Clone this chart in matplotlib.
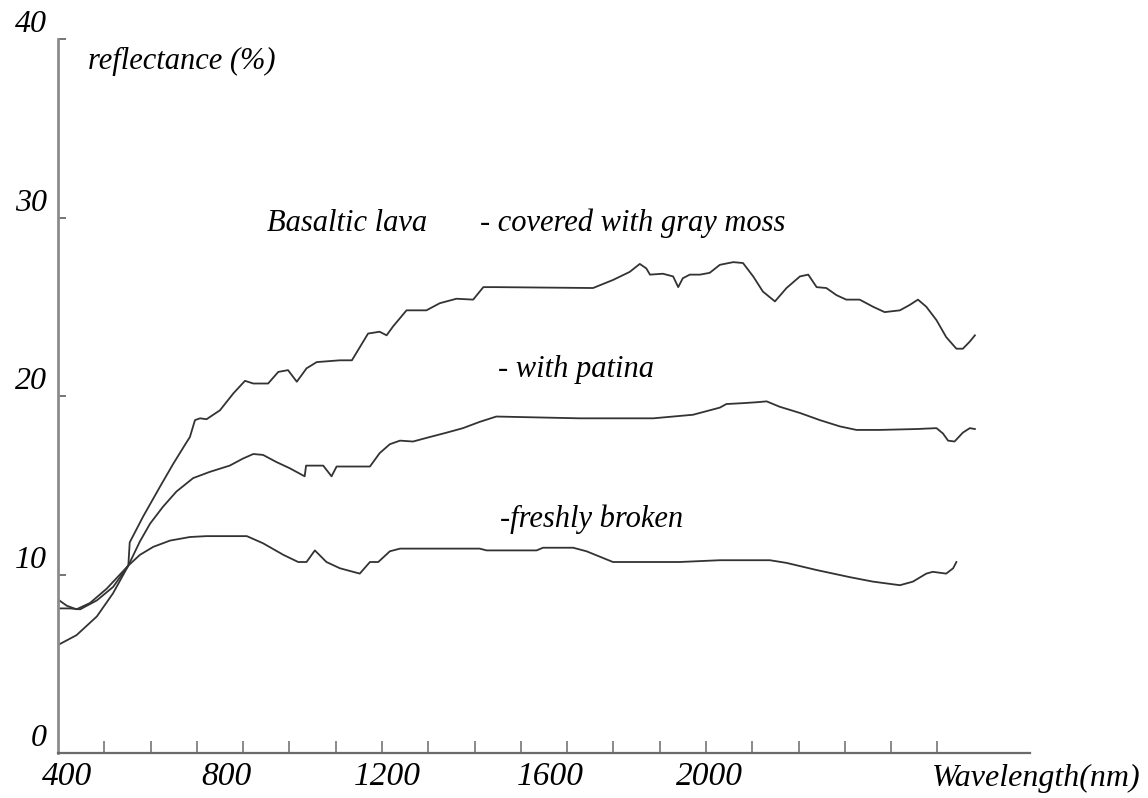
import matplotlib
matplotlib.use("Agg")
import matplotlib.pyplot as plt
from matplotlib.ticker import FixedLocator, NullFormatter

# Spectra (wavelength nm, reflectance %)
wl_moss = [400, 440, 484, 519, 552, 555, 584, 620, 649, 674, 685, 696, 707, 721, 750,
           779, 804, 822, 854, 876, 897, 916, 937, 959, 1009, 1035, 1070, 1095, 1110,
           1124, 1153, 1167, 1196, 1225, 1261, 1297, 1319, 1347, 1556, 1599, 1635, 1657,
           1671, 1679, 1707, 1729, 1740, 1750, 1765, 1787, 1808, 1830, 1859, 1880, 1902,
           1923, 1949, 1974, 2003, 2021, 2039, 2060, 2082, 2103, 2132, 2161, 2186, 2219,
           2240, 2258, 2276, 2298, 2319, 2341, 2355, 2370, 2381]
refl_moss = [6.05, 6.6, 7.65, 8.95, 10.5, 11.8, 13.25, 14.9, 16.2, 17.25, 17.7, 18.65, 18.75,
             18.7, 19.2, 20.15, 20.85, 20.7, 20.7, 21.35, 21.45, 20.8, 21.55, 21.9, 22.0,
             22.0, 23.5, 23.6, 23.4, 23.9, 24.8, 24.8, 24.8, 25.2, 25.45, 25.4, 26.1, 26.1,
             26.05, 26.5, 26.95, 27.4, 27.15, 26.8, 26.85, 26.7, 26.1, 26.6, 26.8, 26.8,
             26.9, 27.35, 27.5, 27.45, 26.7, 25.85, 25.3, 26.05, 26.7, 26.8, 26.1, 26.05,
             25.65, 25.4, 25.4, 25.0, 24.7, 24.8, 25.1, 25.4, 25.0, 24.25, 23.3, 22.65,
             22.65, 23.05, 23.4]

wl_patina = [400, 419, 440, 469, 505, 552, 577, 599, 627, 656, 692, 728, 771, 800, 822,
             843, 872, 901, 933, 936, 973, 991, 1002, 1074, 1095, 1117, 1139, 1167, 1203,
             1240, 1275, 1311, 1347, 1527, 1686, 1772, 1830, 1844, 1880, 1909, 1931, 1959,
             2003, 2046, 2089, 2125, 2175, 2255, 2298, 2312, 2323, 2337, 2355, 2370, 2381]
refl_patina = [8.6, 8.25, 8.05, 8.4, 9.2, 10.5, 11.85, 12.85, 13.8, 14.65, 15.4, 15.75,
               16.1, 16.5, 16.75, 16.7, 16.3, 15.95, 15.5, 16.1, 16.1, 15.5, 16.05, 16.05,
               16.8, 17.3, 17.5, 17.45, 17.7, 17.95, 18.2, 18.55, 18.85, 18.75, 18.75,
               18.95, 19.35, 19.55, 19.6, 19.65, 19.7, 19.4, 19.05, 18.65, 18.3, 18.1,
               18.1, 18.15, 18.2, 17.9, 17.5, 17.45, 17.95, 18.2, 18.15]

wl_fresh = [400, 426, 448, 484, 519, 552, 577, 606, 642, 685, 721, 808, 843, 887, 919,
            937, 955, 980, 1009, 1052, 1074, 1092, 1117, 1139, 1311, 1326, 1434, 1448,
            1513, 1542, 1599, 1743, 1830, 1938, 1974, 2039, 2111, 2161, 2219, 2247, 2276,
            2290, 2319, 2334, 2341]
refl_fresh = [8.1, 8.1, 8.05, 8.55, 9.3, 10.5, 11.1, 11.55, 11.9, 12.1, 12.15, 12.15,
              11.75, 11.1, 10.7, 10.7, 11.35, 10.7, 10.35, 10.05, 10.7, 10.7, 11.3, 11.45,
              11.45, 11.35, 11.35, 11.5, 11.5, 11.3, 10.7, 10.7, 10.8, 10.8, 10.65, 10.25,
              9.85, 9.6, 9.4, 9.6, 10.05, 10.15, 10.05, 10.35, 10.7]

ytick_vals = [0, 10, 20, 30, 40]
xtick_labels = ["400", "800", "1200", "1600", "2000"]
# where the printed labels sit along the axis in the original drawing
xtick_pos = [419, 765, 1111, 1463, 1808]
minor_ticks = list(range(500, 2400, 100))

font = {"family": "Liberation Serif", "style": "italic"}
line_col = "#333333"

fig = plt.figure(figsize=(11.48, 7.98), dpi=100)
ax = fig.add_axes([0.0505, 0.0564, 0.8467, 0.8947])

ax.plot(wl_moss, refl_moss, color=line_col, lw=1.3)
ax.plot(wl_patina, refl_patina, color=line_col, lw=1.3)
ax.plot(wl_fresh, refl_fresh, color=line_col, lw=1.3)

ax.set_xlim(400, 2500)
ax.set_ylim(0, 40)

for s in ["top", "right"]:
    ax.spines[s].set_visible(False)
ax.spines["left"].set_color("#8c8c8c")
ax.spines["left"].set_linewidth(2.0)
ax.spines["bottom"].set_color("#6a6a6a")
ax.spines["bottom"].set_linewidth(1.6)

# x axis: short inward ticks every 100 nm, labels without marks
ax.set_xticks(xtick_pos)
ax.set_xticklabels(xtick_labels, fontsize=24, **font)
ax.xaxis.set_minor_locator(FixedLocator(minor_ticks))
ax.xaxis.set_minor_formatter(NullFormatter())
ax.tick_params(axis="x", which="major", length=0, pad=6)
ax.tick_params(axis="x", which="minor", direction="in", length=9, width=1.1,
               color="#6a6a6a")

# y axis
ax.set_yticks(ytick_vals)
ax.set_yticklabels([str(v) for v in ytick_vals], fontsize=23, **font)
ax.tick_params(axis="y", direction="in", length=6, width=1.3, color="#6a6a6a", pad=8)
for lbl in ax.get_yticklabels():
    lbl.set_verticalalignment("bottom")

ax.text(465, 38.3, "reflectance (%)", fontsize=22, va="baseline", **font)
ax.text(2288, -1.85, "Wavelength(nm)", fontsize=23, va="baseline", **font)
ax.text(851, 29.25, "Basaltic lava", fontsize=22, va="baseline", **font)
ax.text(1311, 29.25, "- covered with gray moss", fontsize=22, va="baseline", **font)
ax.text(1350, 21.05, "- with patina", fontsize=22, va="baseline", **font)
ax.text(1355, 12.65, "-freshly broken", fontsize=22, va="baseline", **font)

fig.savefig("out.png", dpi=100)
